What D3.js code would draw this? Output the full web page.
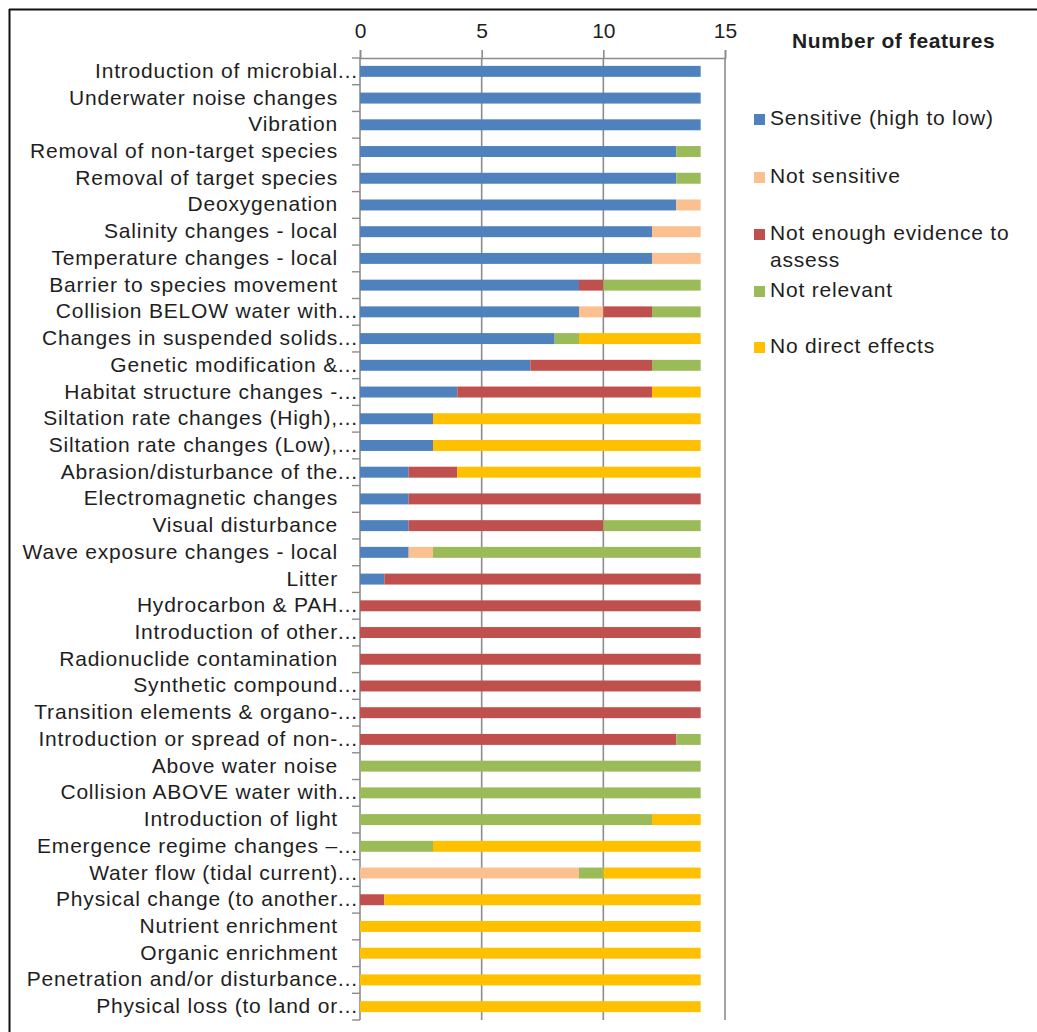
<!DOCTYPE html>
<html>
<head>
<meta charset="utf-8">
<script src="https://cdn.jsdelivr.net/npm/d3@7"></script>
<style>
  html, body { margin: 0; padding: 0; background: #fff; }
  svg { display: block; }
  text { font-family: "Liberation Sans", Arial, sans-serif; fill: #1e1e1e; }
</style>
</head>
<body>
<svg id="chart" width="1037" height="1032"></svg>
<script>
// Pressures, top to bottom; a trailing "…" marks a shortened label
const pressures = [
  "Introduction of microbial…",
  "Underwater noise changes",
  "Vibration",
  "Removal of non-target species",
  "Removal of target species",
  "Deoxygenation",
  "Salinity changes - local",
  "Temperature changes - local",
  "Barrier to species movement",
  "Collision BELOW water with…",
  "Changes in suspended solids…",
  "Genetic modification &…",
  "Habitat structure changes -…",
  "Siltation rate changes (High),…",
  "Siltation rate changes (Low),…",
  "Abrasion/disturbance of the…",
  "Electromagnetic changes",
  "Visual disturbance",
  "Wave exposure changes - local",
  "Litter",
  "Hydrocarbon & PAH…",
  "Introduction of other…",
  "Radionuclide contamination",
  "Synthetic compound…",
  "Transition elements & organo-…",
  "Introduction or spread of non-…",
  "Above water noise",
  "Collision ABOVE water with…",
  "Introduction of light",
  "Emergence regime changes –…",
  "Water flow (tidal current)…",
  "Physical change (to another…",
  "Nutrient enrichment",
  "Organic enrichment",
  "Penetration and/or disturbance…",
  "Physical loss (to land or…"
];

// Number of features in each assessment class, per pressure
const sensitive     = [14,14,14,13,13,13,12,12, 9, 9, 8, 7, 4, 3, 3, 2, 2, 2, 2, 1, 0, 0, 0, 0, 0, 0, 0, 0, 0, 0, 0, 0, 0, 0, 0, 0];
const notSensitive  = [ 0, 0, 0, 0, 0, 1, 2, 2, 0, 1, 0, 0, 0, 0, 0, 0, 0, 0, 1, 0, 0, 0, 0, 0, 0, 0, 0, 0, 0, 0, 9, 0, 0, 0, 0, 0];
const notEnoughEvid = [ 0, 0, 0, 0, 0, 0, 0, 0, 1, 2, 0, 5, 8, 0, 0, 2,12, 8, 0,13,14,14,14,14,14,13, 0, 0, 0, 0, 0, 1, 0, 0, 0, 0];
const notRelevant   = [ 0, 0, 0, 1, 1, 0, 0, 0, 4, 2, 1, 2, 0, 0, 0, 0, 0, 4,11, 0, 0, 0, 0, 0, 0, 1,14,14,12, 3, 1, 0, 0, 0, 0, 0];
const noDirect      = [ 0, 0, 0, 0, 0, 0, 0, 0, 0, 0, 5, 0, 2,11,11,10, 0, 0, 0, 0, 0, 0, 0, 0, 0, 0, 0, 0, 2,11, 4,13,14,14,14,14];

const seriesNames = ["Sensitive (high to low)", "Not sensitive", "Not enough evidence to assess", "Not relevant", "No direct effects"];
const seriesValues = [sensitive, notSensitive, notEnoughEvid, notRelevant, noDirect];
const seriesColors = ["#4f81bd", "#fac090", "#c0504d", "#9bbb59", "#ffc000"];
const xTicks = [0, 5, 10, 15];
const legendTitle = "Number of features";

const svg = d3.select("#chart");
const keys = seriesNames.map((_, i) => "s" + i);

const rows = pressures.map((p, r) => {
  const o = { pressure: p };
  keys.forEach((k, i) => { o[k] = seriesValues[i][r]; });
  return o;
});
const stacked = d3.stack().keys(keys)(rows);

const plot = { left: 360, right: 725, top: 58, bottom: 1020 };

const x = d3.scaleLinear().domain([0, 15]).range([plot.left, plot.right]);
const y = d3.scaleBand().domain(pressures).range([plot.top, plot.bottom])
  .paddingInner(0.59).paddingOuter(0.295);

const gridColor = "#8c8c8c";

// Outer frame (left and top edges)
svg.append("line").attr("x1", 9.5).attr("x2", 9.5).attr("y1", 9).attr("y2", 1032)
  .attr("stroke", "#111").attr("stroke-width", 2);
svg.append("line").attr("x1", 9).attr("x2", 1037).attr("y1", 9.5).attr("y2", 9.5)
  .attr("stroke", "#111").attr("stroke-width", 2);

// Vertical gridlines
svg.append("g").selectAll("line").data(xTicks.filter(t => t > 0)).join("line")
  .attr("x1", d => x(d)).attr("x2", d => x(d))
  .attr("y1", plot.top).attr("y2", plot.bottom)
  .attr("stroke", gridColor).attr("stroke-width", 1.6);

// Top value axis
const xAxis = svg.append("g").attr("transform", `translate(0,${plot.top})`)
  .call(d3.axisTop(x).tickValues(xTicks).tickSize(8).tickPadding(12).tickFormat(d3.format("d")));
xAxis.select(".domain").attr("stroke", gridColor).attr("stroke-width", 1.6);
xAxis.selectAll(".tick line").attr("stroke", gridColor).attr("stroke-width", 1.6);
xAxis.selectAll(".tick text").attr("font-size", 21).attr("fill", "#1e1e1e")
  .style("font-family", "'Liberation Sans', Arial, sans-serif");

// Category axis line and boundary ticks
svg.append("line").attr("x1", plot.left).attr("x2", plot.left)
  .attr("y1", plot.top).attr("y2", plot.bottom)
  .attr("stroke", gridColor).attr("stroke-width", 1.6);
const bounds = d3.range(pressures.length + 1).map(i => plot.top + i * y.step());
svg.append("g").selectAll("line").data(bounds).join("line")
  .attr("x1", plot.left - 8).attr("x2", plot.left)
  .attr("y1", d => d).attr("y2", d => d)
  .attr("stroke", gridColor).attr("stroke-width", 1.4);

// Stacked bars
svg.append("g").selectAll("g").data(stacked).join("g")
  .attr("fill", (d, i) => seriesColors[i])
  .selectAll("rect").data(d => d.filter(s => s[1] - s[0] > 0)).join("rect")
  .attr("x", d => x(d[0]))
  .attr("width", d => x(d[1]) - x(d[0]))
  .attr("y", d => y(d.data.pressure))
  .attr("height", y.bandwidth());

// Category labels
const labelX = 338;
const labels = svg.append("g").selectAll("g").data(pressures).join("g")
  .attr("transform", d => `translate(0,${y(d) + y.bandwidth() / 2 + 6.5})`);
labels.append("text")
  .attr("x", labelX).attr("text-anchor", "end")
  .attr("font-size", 21).attr("letter-spacing", 0.8)
  .text(d => d.replace(/…$/, ""));
labels.filter(d => d.endsWith("…")).append("text")
  .attr("x", labelX - 1).attr("text-anchor", "start")
  .attr("font-size", 21).attr("fill", "#555")
  .text("…");

// Legend
svg.append("text").attr("x", 792).attr("y", 48)
  .attr("font-size", 21).attr("font-weight", "bold").attr("letter-spacing", 0.6)
  .text(legendTitle);

const legendRows = [
  { i: 0, lines: ["Sensitive (high to low)"], y: 125 },
  { i: 1, lines: ["Not sensitive"], y: 183 },
  { i: 2, lines: ["Not enough evidence to", "assess"], y: 240 },
  { i: 3, lines: ["Not relevant"], y: 297 },
  { i: 4, lines: ["No direct effects"], y: 353 }
];
const lg = svg.append("g").selectAll("g").data(legendRows).join("g");
lg.append("rect")
  .attr("x", 754).attr("y", d => d.y - 11).attr("width", 11).attr("height", 11)
  .attr("fill", d => seriesColors[d.i]);
lg.append("text")
  .attr("x", 770).attr("y", d => d.y)
  .attr("font-size", 21).attr("letter-spacing", 0.8)
  .selectAll("tspan").data(d => d.lines).join("tspan")
  .attr("x", 770).attr("dy", (d, j) => j === 0 ? 0 : 26.5)
  .text(d => d);
</script>
</body>
</html>
